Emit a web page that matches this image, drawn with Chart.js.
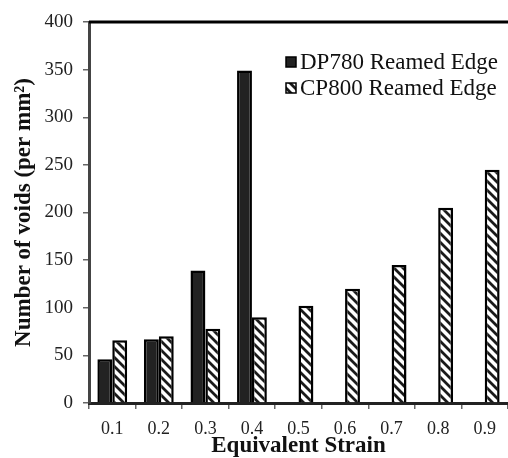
<!DOCTYPE html>
<html>
<head>
<meta charset="utf-8">
<script src="https://cdn.jsdelivr.net/npm/chart.js@4"></script>
<style>
  html, body { margin: 0; padding: 0; background: #fff; overflow: hidden; }
  #wrap { width: 508px; height: 458px; }
</style>
</head>
<body>
<div id="wrap"><canvas id="grafico"></canvas></div>
<script>
const categorias = ["0.1", "0.2", "0.3", "0.4", "0.5", "0.6", "0.7", "0.8", "0.9"];
const dp780 = [46, 67, 139, 349, null, null, null, null, null];
const cp800 = [66, 70, 78, 90, 102, 120, 145, 205, 245];
const ticksY = [0, 50, 100, 150, 200, 250, 300, 350, 400];

const fuente = "'Liberation Serif', 'Times New Roman', serif";

// trama diagonal para CP800
function crearTrama() {
  const n = 9;
  const c = document.createElement("canvas");
  c.width = n; c.height = n;
  const g = c.getContext("2d");
  g.fillStyle = "#fff";
  g.fillRect(0, 0, n, n);
  g.strokeStyle = "#1a1a1a";
  g.lineWidth = 2.8;
  g.beginPath();
  g.moveTo(-2, -2); g.lineTo(n + 2, n + 2);
  g.moveTo(-2, n - 2); g.lineTo(2, n + 2);
  g.moveTo(n - 2, -2); g.lineTo(n + 2, 2);
  g.stroke();
  return g.createPattern(c, "repeat");
}
const trama = crearTrama();

const bordeSuperior = {
  id: "bordeSuperior",
  afterDraw(chart) {
    const { ctx, chartArea } = chart;
    ctx.save();
    ctx.strokeStyle = "#000";
    ctx.lineWidth = 3;
    ctx.beginPath();
    ctx.moveTo(chartArea.left, chartArea.top);
    ctx.lineTo(chartArea.right, chartArea.top);
    ctx.stroke();
    ctx.restore();
  }
};

const leyenda = {
  id: "leyenda",
  afterDraw(chart, args, opts) {
    const { ctx, chartArea } = chart;
    ctx.save();
    ctx.font = "23px " + fuente;
    ctx.textBaseline = "middle";
    chart.data.datasets.forEach((ds, i) => {
      const x = chartArea.left + opts.x;
      const y = chartArea.top + opts.y + i * opts.paso;
      ctx.fillStyle = ds.backgroundColor;
      ctx.fillRect(x, y - 5, 10, 10);
      ctx.strokeStyle = "#000";
      ctx.lineWidth = 1.5;
      ctx.strokeRect(x, y - 5, 10, 10);
      ctx.fillStyle = "#111";
      ctx.fillText(ds.label, x + 14, y + 1);
    });
    ctx.restore();
  }
};

new Chart(document.querySelector("#grafico"), {
  type: "bar",
  data: {
    labels: categorias,
    datasets: [
      {
        label: "DP780 Reamed Edge",
        data: dp780,
        backgroundColor: "#222",
        borderColor: "#000",
        borderWidth: 2.5
      },
      {
        label: "CP800 Reamed Edge",
        data: cp800,
        backgroundColor: trama,
        borderColor: "#000",
        borderWidth: 2.5
      }
    ]
  },
  options: {
    responsive: true,
    maintainAspectRatio: false,
    animation: false,
    layout: { padding: { top: 22, right: 0, left: 0, bottom: 0 } },
    datasets: { bar: { categoryPercentage: 0.64, barPercentage: 1 } },
    plugins: {
      legend: { display: false },
      tooltip: { enabled: false },
      leyenda: { x: 197, y: 40, paso: 26 }
    },
    scales: {
      x: {
        grid: { offset: true, drawOnChartArea: false, drawTicks: true, tickLength: 6, color: "#666", lineWidth: 1.5 },
        border: { display: true, color: "#222", width: 3 },
        ticks: { color: "#222", font: { family: fuente, size: 18 }, padding: 9 },
        title: {
          display: true,
          text: "Equivalent Strain",
          color: "#111",
          font: { family: fuente, size: 23, weight: "bold", lineHeight: 1 },
          padding: { top: 0, bottom: 0 }
        },
        afterFit(s) { s.height = 55; }
      },
      y: {
        min: 0,
        max: 400,
        afterBuildTicks(s) { s.ticks = ticksY.map(v => ({ value: v })); },
        grid: { drawOnChartArea: false, drawTicks: true, tickLength: 6, color: "#666", lineWidth: 1.5 },
        border: { display: true, color: "#444", width: 3 },
        ticks: { color: "#222", font: { family: fuente, size: 19 }, padding: 10 },
        title: {
          display: true,
          text: "Number of voids (per mm²)",
          color: "#111",
          font: { family: fuente, size: 23, weight: "bold", lineHeight: 1 },
          padding: { top: 13, bottom: 0 }
        },
        afterFit(s) { s.width = 89; }
      }
    }
  },
  plugins: [bordeSuperior, leyenda]
});
</script>
</body>
</html>
